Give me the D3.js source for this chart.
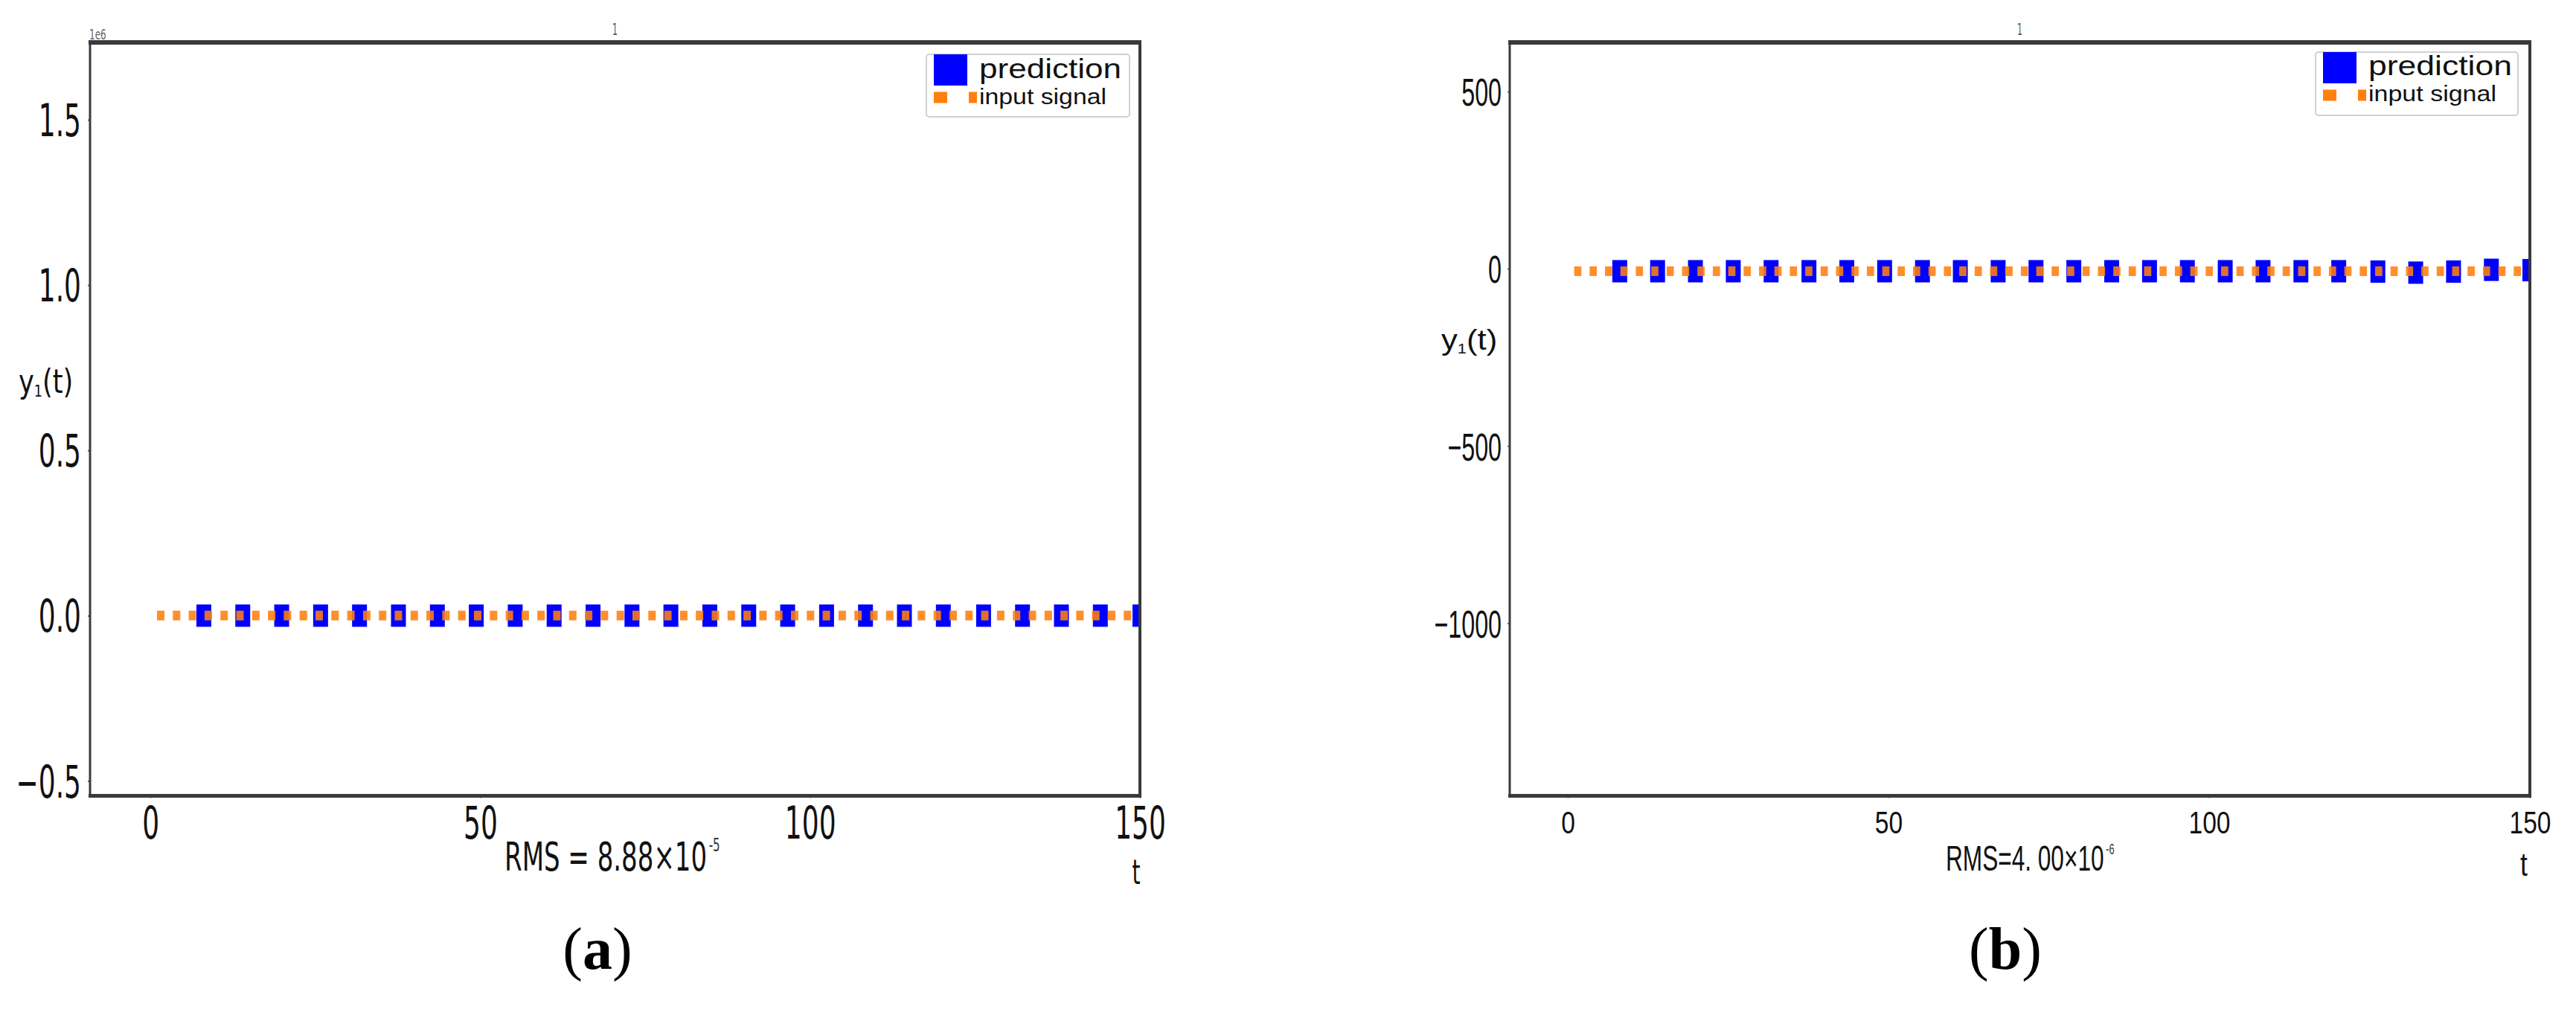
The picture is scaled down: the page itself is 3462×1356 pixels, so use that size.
<!DOCTYPE html>
<html>
<head>
<meta charset="utf-8">
<script src="https://cdn.jsdelivr.net/npm/d3@7"></script>
<style>
  body { margin: 0; background: #fff; }
  svg { display: block; }
</style>
</head>
<body>
<svg id="fig" width="3462" height="1356"></svg>
<script>
// sample times of the prediction markers (same in both panels)
const tPred = [8.1, 14.0, 19.9, 25.8, 31.7, 37.6, 43.5, 49.4, 55.3, 61.2, 67.1, 73.0, 78.9,
               84.8, 90.7, 96.6, 102.5, 108.4, 114.3, 120.2, 126.3, 132.2, 138.1, 144.0, 150.0];
// panel (a) prediction, raw units (axis is x1e6)
const predA = [0, 0, 0, 0, 0, 0, 0, 0, 0, 0, 0, 0, 0, 0, 0, 0, 0, 0, 0, 0, 0, 0, 0, 0, 0];
// panel (b) prediction
const predB = [-7, -7, -7, -7, -7, -7, -7, -7, -7, -7, -7, -7, -7, -7, -7, -7, -7, -7, -7, -7,
               -8, -11, -8, -3, -4];
// input signal (dotted line)
const tInput = [1, 150];
const inputA = [0, 0];
const inputB = [-7, -7];

const xTicks = [0, 50, 100, 150];
const yTicksA = [-0.5e6, 0, 0.5e6, 1.0e6, 1.5e6];
const yTicksB = [-1000, -500, 0, 500];
const legendLabels = ["prediction", "input signal"];
const rmsA = "RMS = 8.88×10", rmsExpA = "-5";
const rmsB = "RMS=4. 00×10", rmsExpB = "-6";

const svg = d3.select("#fig");
const BLUE = "#0000ff", ORANGE = "#ff7f0e", FRAME = "#3a3a3a";

function drawPanel(c) {
  const g = svg.append("g");
  const x = d3.scaleLinear().domain(c.xDomain).range([c.left, c.right]);
  const y = d3.scaleLinear().domain(c.yDomain).range([c.bottom, c.top]);

  const clipId = "clip" + c.id;
  svg.append("clipPath").attr("id", clipId)
    .append("rect")
      .attr("x", c.left).attr("y", c.top)
      .attr("width", c.right - c.left).attr("height", c.bottom - c.top);

  // prediction markers
  const pred = tPred.map((t, i) => ({ t, v: c.pred[i] }));
  g.append("g").attr("clip-path", "url(#" + clipId + ")")
    .selectAll("rect").data(pred).enter().append("rect")
      .attr("x", d => x(d.t) - 10)
      .attr("y", d => y(d.v) - 15)
      .attr("width", 20).attr("height", 30)
      .attr("fill", BLUE);

  // input signal dotted line on top
  const inp = tInput.map((t, i) => ({ t, v: c.input[i] }));
  const line = d3.line().x(d => x(d.t)).y(d => y(d.v));
  g.append("path").datum(inp)
    .attr("clip-path", "url(#" + clipId + ")")
    .attr("d", line)
    .attr("fill", "none")
    .attr("stroke", ORANGE)
    .attr("stroke-opacity", 0.88)
    .attr("stroke-width", 13)
    .attr("stroke-dasharray", c.dash);

  // axes
  const ax = g.append("g")
    .attr("transform", "translate(0," + c.bottom + ")")
    .call(d3.axisBottom(x).tickValues(xTicks).tickSize(3).tickPadding(c.xPad).tickFormat(d3.format("d")));
  ax.select(".domain").remove();
  ax.selectAll("line").attr("stroke", "#666").attr("stroke-width", 2);
  ax.selectAll("text")
    .attr("font-family", c.font).attr("font-size", c.xFont).attr("fill", "#111")
    .attr("transform", "scale(" + c.xSx + ",1)");

  const ay = g.append("g")
    .attr("transform", "translate(" + c.left + ",0)")
    .call(d3.axisLeft(y).tickValues(c.yTicks).tickSize(3).tickPadding(c.yPad).tickFormat(c.yFmt));
  ay.select(".domain").remove();
  ay.selectAll("line").attr("stroke", "#666").attr("stroke-width", 2);
  ay.selectAll("text")
    .attr("font-family", c.font).attr("font-size", c.yFont).attr("fill", "#111")
    .attr("dy", "0.36em")
    .attr("x", -(3 + c.yPad) / c.ySx)
    .attr("transform", "scale(" + c.ySx + ",1)");

  // frame: thick top / bottom, thinner sides
  g.append("line").attr("x1", c.left - 2).attr("x2", c.right + 2).attr("y1", c.top).attr("y2", c.top)
    .attr("stroke", FRAME).attr("stroke-width", 6);
  g.append("line").attr("x1", c.left - 2).attr("x2", c.right + 2).attr("y1", c.bottom).attr("y2", c.bottom)
    .attr("stroke", FRAME).attr("stroke-width", 5);
  g.append("line").attr("x1", c.left).attr("x2", c.left).attr("y1", c.top).attr("y2", c.bottom)
    .attr("stroke", FRAME).attr("stroke-width", 3);
  g.append("line").attr("x1", c.right).attr("x2", c.right).attr("y1", c.top).attr("y2", c.bottom)
    .attr("stroke", FRAME).attr("stroke-width", 4);

  // small title "1"
  g.append("text")
    .attr("transform", "translate(" + (c.left + c.right) / 2 + ",47) scale(0.5,1)")
    .attr("text-anchor", "middle").attr("font-family", "DejaVu Sans")
    .attr("font-size", 22).attr("fill", "#555").text("1");

  // legend
  const L = c.legend;
  g.append("rect").attr("x", L.x).attr("y", L.y).attr("width", L.w).attr("height", L.h)
    .attr("rx", 4).attr("fill", "#fff").attr("fill-opacity", 0.85)
    .attr("stroke", "#d0d0d0").attr("stroke-width", 2);
  g.append("rect").attr("x", L.x + 10).attr("y", L.y).attr("width", 45).attr("height", 42)
    .attr("fill", BLUE);
  g.append("line").attr("x1", L.x + 10).attr("x2", L.x + 68)
    .attr("y1", L.y + 58).attr("y2", L.y + 58)
    .attr("stroke", ORANGE).attr("stroke-width", 15).attr("stroke-dasharray", "18 29");
  g.append("text").attr("x", L.x + 71).attr("y", L.y + L.b1)
    .attr("font-family", "Liberation Sans").attr("font-size", 37).attr("fill", "#111")
    .attr("textLength", L.t1).attr("lengthAdjust", "spacingAndGlyphs").text(legendLabels[0]);
  g.append("text").attr("x", L.x + 71).attr("y", L.y + L.b2)
    .attr("font-family", "Liberation Sans").attr("font-size", 30).attr("fill", "#111")
    .attr("textLength", L.t2).attr("lengthAdjust", "spacingAndGlyphs").text(legendLabels[1]);

  // y label y1(t)
  const yl = g.append("text")
    .attr("transform", "translate(" + c.yLab.x + "," + c.yLab.y + ") scale(" + c.yLab.sx + ",1)")
    .attr("font-family", c.font).attr("font-size", c.yLab.size).attr("fill", "#111");
  yl.append("tspan").text("y");
  yl.append("tspan").attr("font-size", c.yLab.size * 0.5).attr("dy", c.yLab.size * 0.12).text("1");
  yl.append("tspan").attr("dy", -c.yLab.size * 0.12).text("(t)");

  // x label t
  g.append("text")
    .attr("transform", "translate(" + c.tLab.x + "," + c.tLab.y + ") scale(" + c.tLab.sx + ",1)")
    .attr("text-anchor", "middle").attr("font-family", c.font)
    .attr("font-size", c.tLab.size).attr("fill", "#111").text("t");

  // RMS annotation, exponent as a raised tspan
  const rt = g.append("text")
    .attr("transform", "translate(" + c.rms.x + "," + c.rms.y + ") scale(" + c.rms.sx + ",1)")
    .attr("font-family", c.font).attr("font-size", c.rms.size).attr("fill", "#111");
  rt.append("tspan").text(c.rms.text);
  rt.append("tspan").attr("dx", 4).attr("dy", -c.rms.rise)
    .attr("font-size", c.rms.esize).attr("fill", "#333").text(c.rms.exp);

  // panel letter
  const pl = g.append("text")
    .attr("x", c.letter.x).attr("y", 1302).attr("text-anchor", "middle")
    .attr("font-family", "Liberation Serif").attr("font-size", 80).attr("fill", "#000");
  pl.append("tspan").text("(");
  pl.append("tspan").attr("font-weight", "bold").text(c.letter.t);
  pl.append("tspan").text(")");

  return g;
}

const gA = drawPanel({
  id: "a", left: 121, right: 1532, top: 57, bottom: 1069.5,
  xDomain: [-9.15, 150], yDomain: [-0.545e6, 1.734e6],
  yTicks: yTicksA, yFmt: d => d3.format(".1f")(d / 1e6).replace("-", "\u2212"),
  pred: predA, input: inputA, dash: "10 11.3",
  font: "DejaVu Sans", xFont: 60, xSx: 0.6, xPad: 12, yFont: 60, ySx: 0.6, yPad: 9,
  legend: { x: 1245, y: 73, w: 273, h: 84, b1: 32, b2: 67, t1: 191, t2: 171 },
  yLab: { x: 25, y: 528, sx: 0.8, size: 44 },
  tLab: { x: 1527, y: 1188, sx: 0.6, size: 47 },
  rms: { x: 678, y: 1170, size: 54, sx: 0.63, text: rmsA, exp: rmsExpA, esize: 24, rise: 26 },
  letter: { x: 803, t: "a" }
});
// 1e6 offset text of panel (a)
gA.append("text")
  .attr("transform", "translate(120,53) scale(0.6,1)")
  .attr("font-family", "DejaVu Sans").attr("font-size", 20).attr("fill", "#666").text("1e6");

drawPanel({
  id: "b", left: 2029, right: 3400, top: 57, bottom: 1069.5,
  xDomain: [-9.05, 150], yDomain: [-1487.4, 638.7],
  yTicks: yTicksB, yFmt: d => String(d).replace("-", "\u2212"),
  pred: predB, input: inputB, dash: "9.7 11",
  font: "Liberation Sans", xFont: 43, xSx: 0.78, xPad: 17, yFont: 52, ySx: 0.62, yPad: 8,
  legend: { x: 3112, y: 70, w: 272, h: 85, b1: 31, b2: 66, t1: 193, t2: 172 },
  yLab: { x: 1937, y: 470, sx: 1.15, size: 38 },
  tLab: { x: 3392, y: 1177, sx: 0.8, size: 44 },
  rms: { x: 2615, y: 1170, size: 49, sx: 0.645, text: rmsB, exp: rmsExpB, esize: 20, rise: 22 },
  letter: { x: 2695, t: "b" }
});
</script>
</body>
</html>
